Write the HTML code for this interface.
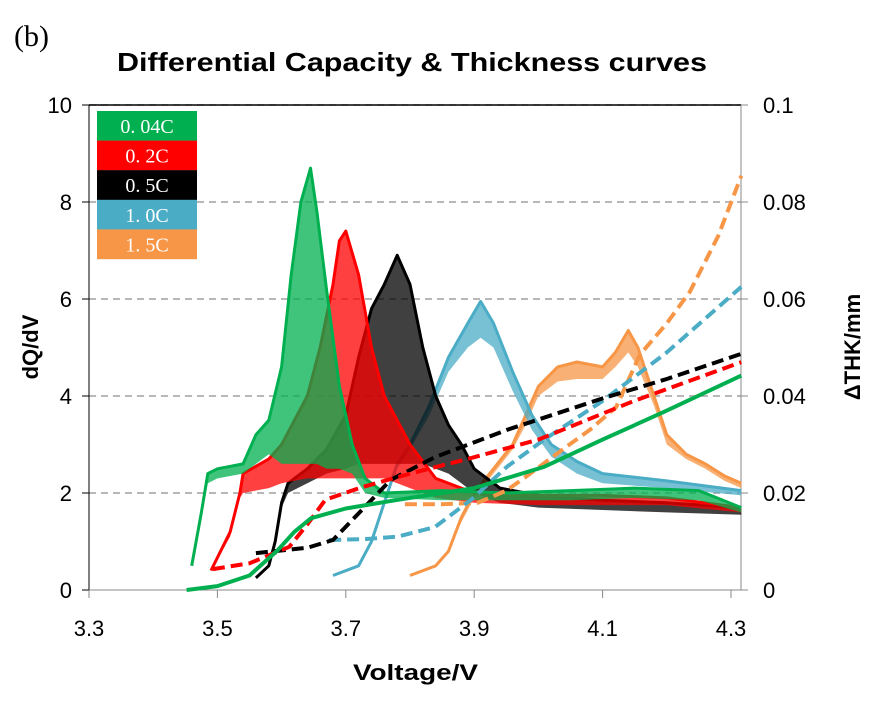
<!DOCTYPE html>
<html><head><meta charset="utf-8"><style>
body{margin:0;background:#fff}
svg text{font-family:"Liberation Sans","DejaVu Sans",sans-serif}
</style></head><body>
<svg id="chart" width="886" height="710" xmlns="http://www.w3.org/2000/svg">
<text x="14" y="46" font-size="30" style="font-family:'Liberation Serif',serif">(b)</text>
<text x="117" y="71" font-size="26" font-weight="bold" textLength="590" lengthAdjust="spacingAndGlyphs">Differential Capacity &amp; Thickness curves</text>
<g id="grid"></g><g id="axes"></g><g id="series"></g><g id="legend"></g>
<text transform="translate(38,347) rotate(-90)" font-size="22" font-weight="bold" text-anchor="middle">dQ/dV</text>
<text transform="translate(860,347) rotate(-90)" font-size="22" font-weight="bold" text-anchor="middle">ΔTHK/mm</text>
<text x="353" y="680" font-size="22" font-weight="bold" textLength="125" lengthAdjust="spacingAndGlyphs">Voltage/V</text>
</svg>
<script>
const xTicks=[3.3,3.5,3.7,3.9,4.1,4.3];
const yTicks=[0,2,4,6,8,10];
const y2Ticks=["0","0.02","0.04","0.06","0.08","0.1"];
const names=["0.04C","0.2C","0.5C","1.0C","1.5C"];
const legendText=["0. 04C","0. 2C","0. 5C","1. 0C","1. 5C"];
const colors=["#00b050","#ff0000","#000000","#4bacc6","#f79646"];
// dQ/dV (upper envelope / lower envelope)
const v004=[3.46,3.475,3.485,3.5,3.54,3.56,3.58,3.6,3.615,3.63,3.645,3.655,3.67,3.69,3.71,3.73,3.76,3.85,3.95,4.05,4.15,4.25,4.316];
const up004=[0.5,1.6,2.4,2.5,2.6,3.2,3.5,4.6,6.5,8.0,8.7,7.8,6.2,4.2,3.0,2.3,2.0,2.05,2.0,2.05,2.1,2.05,1.7];
const lo004=[0.5,1.5,2.2,2.3,2.4,2.6,2.8,2.6,2.6,2.6,2.6,2.6,2.5,2.5,2.4,2.0,1.9,1.85,1.85,1.85,1.9,1.85,1.6];
const v02=[3.49,3.52,3.535,3.54,3.58,3.6,3.64,3.66,3.68,3.69,3.7,3.72,3.74,3.76,3.8,3.84,3.9,4.0,4.1,4.2,4.316];
const up02=[0.4,1.2,2.0,2.4,2.7,3.0,4.0,5.0,6.3,7.2,7.4,6.5,5.0,4.0,3.0,2.3,2.0,1.95,1.95,1.9,1.7];
const lo02=[0.4,1.1,1.9,2.0,2.1,2.2,2.3,2.3,2.3,2.3,2.3,2.3,2.3,2.3,2.1,1.9,1.8,1.75,1.75,1.75,1.6];
const v05=[3.56,3.58,3.59,3.6,3.61,3.64,3.67,3.7,3.72,3.74,3.76,3.78,3.8,3.82,3.84,3.86,3.88,3.9,3.94,4.0,4.1,4.2,4.316];
const up05=[0.25,0.5,1.0,1.8,2.2,2.5,2.9,3.6,4.8,5.8,6.3,6.9,6.3,5.0,4.0,3.4,3.0,2.5,2.1,1.95,1.85,1.8,1.7];
const lo05=[0.25,0.5,1.0,1.7,2.0,2.2,2.4,2.5,2.6,2.6,2.6,2.6,2.6,2.6,2.5,2.4,2.2,2.0,1.8,1.7,1.65,1.6,1.55];
const v10=[3.68,3.72,3.74,3.76,3.78,3.8,3.83,3.86,3.89,3.91,3.93,3.96,3.99,4.02,4.06,4.1,4.2,4.316];
const up10=[0.3,0.5,1.0,1.8,2.6,3.0,3.8,4.8,5.5,5.95,5.5,4.5,3.6,3.0,2.65,2.4,2.25,2.05];
const lo10=[0.3,0.5,1.0,1.8,2.5,2.9,3.6,4.5,5.0,5.2,5.0,4.1,3.3,2.75,2.4,2.2,2.1,1.95];
const v15=[3.8,3.84,3.86,3.88,3.9,3.93,3.96,3.98,4.0,4.03,4.06,4.1,4.12,4.14,4.155,4.18,4.2,4.23,4.26,4.29,4.316];
const up15=[0.3,0.5,0.8,1.5,2.0,2.5,3.0,3.6,4.2,4.6,4.7,4.6,4.9,5.35,5.0,4.0,3.2,2.8,2.6,2.35,2.2];
const lo15=[0.3,0.5,0.8,1.4,1.9,2.4,2.9,3.4,4.0,4.3,4.35,4.35,4.6,4.9,4.6,3.8,3.0,2.7,2.5,2.25,2.1];
// thickness (mm)
const tv004=[3.452,3.5,3.55,3.594,3.62,3.646,3.7,3.781,3.9,4.009,4.1,4.2,4.316];
const th004=[0,0.0008,0.003,0.0082,0.012,0.0148,0.0168,0.0186,0.021,0.0254,0.031,0.037,0.0442];
const tv02=[3.493,3.55,3.612,3.64,3.668,3.725,3.8,3.895,4.0,4.149,4.316];
const th02=[0.0043,0.0055,0.0089,0.0135,0.0186,0.0212,0.024,0.0272,0.031,0.039,0.047];
const tv05=[3.56,3.64,3.68,3.725,3.77,3.839,3.951,4.1,4.2,4.316];
const th05=[0.0076,0.0087,0.0103,0.0165,0.0227,0.0274,0.033,0.0395,0.0435,0.0487];
const tv10=[3.674,3.73,3.781,3.839,3.895,3.951,4.009,4.1,4.2,4.316];
const th10=[0.0103,0.0105,0.011,0.013,0.0186,0.0254,0.031,0.039,0.049,0.0625];
const tv15=[3.792,3.85,3.906,3.95,3.98,4.037,4.08,4.121,4.158,4.2,4.236,4.28,4.316];
const th15=[0.0177,0.0177,0.018,0.0205,0.0233,0.0289,0.033,0.0377,0.0485,0.055,0.0615,0.073,0.0854];

const X=v=>89+(v-3.3)*642;
const Y=v=>590-v*48.5;
const Y2=v=>590-v*4850;
const NS="http://www.w3.org/2000/svg";
function mk(tag,parent,attrs){const e=document.createElementNS(NS,tag);for(const k in attrs)e.setAttribute(k,attrs[k]);parent.appendChild(e);return e;}
const grid=document.getElementById('grid'),axes=document.getElementById('axes'),ser=document.getElementById('series'),leg=document.getElementById('legend');
yTicks.forEach((t,i)=>{
  if(t>0){const l=mk('line',grid,{x1:89,x2:741,y1:Y(t),y2:Y(t),stroke:'#a0a0a0','stroke-width':1.5,'stroke-dasharray':'7,5'});
  
  }
  const tl=mk('text',axes,{x:72,y:Y(t)+8,'font-size':22,'text-anchor':'end'});tl.textContent=t;
  
  
  const t2=mk('text',axes,{x:763,y:Y(t)+8,'font-size':22});t2.textContent=y2Ticks[i];
  
  
  mk('line',axes,{x1:741,x2:748,y1:Y(t),y2:Y(t),stroke:'#888'});
  mk('line',axes,{x1:82,x2:89,y1:Y(t),y2:Y(t),stroke:'#000'});
});
mk('line',axes,{x1:89,x2:741,y1:105,y2:105,stroke:'#000','stroke-width':1.5});
mk('line',axes,{x1:89,x2:89,y1:105,y2:590,stroke:'#000'});
mk('line',axes,{x1:741,x2:741,y1:105,y2:590,stroke:'#888'});
mk('line',axes,{x1:89,x2:741,y1:590,y2:590,stroke:'#888'});
xTicks.forEach(t=>{
  mk('line',axes,{x1:X(t),x2:X(t),y1:590,y2:598,stroke:'#888'});
  const tl=mk('text',axes,{x:X(t),y:636,'font-size':22,'text-anchor':'middle'});tl.textContent=t.toFixed(1);
  
  
});
const dq=[[v004,up004,lo004],[v02,up02,lo02],[v05,up05,lo05],[v10,up10,lo10],[v15,up15,lo15]];
const th=[[tv004,th004],[tv02,th02],[tv05,th05],[tv10,th10],[tv15,th15]];
const order=[4,3,2,1,0];
order.forEach(i=>{
  const [v,u,l]=dq[i];
  let d='M'+v.map((x,k)=>X(x).toFixed(1)+','+Y(u[k]).toFixed(1)).join('L');
  d+='L'+v.map((x,k)=>X(x).toFixed(1)+','+Y(l[k]).toFixed(1)).reverse().join('L')+'Z';
  const p=mk('path',ser,{d:d,fill:colors[i],'fill-opacity':0.75,stroke:'none'});
  
  
  const ln=mk('polyline',ser,{points:v.map((x,k)=>X(x).toFixed(1)+','+Y(u[k]).toFixed(1)).join(' '),fill:'none',stroke:colors[i],'stroke-width':3,'stroke-linejoin':'round'});
  
  
});
order.forEach(i=>{
  const [v,t]=th[i];
  const pts=v.map((x,k)=>X(x).toFixed(1)+','+Y2(t[k]).toFixed(1)).join(' ');
  const a={points:pts,fill:'none',stroke:colors[i],'stroke-width':4,'stroke-linejoin':'round'};
  if(i>0)a['stroke-dasharray']='12,6';
  const p=mk('polyline',ser,a);
  
  
});
names.forEach((n,i)=>{
  const g=mk('g',leg,{});
  
  
  mk('rect',g,{x:97,y:111+i*29.6,width:100,height:29.8,fill:colors[i]});
  const t=mk('text',g,{x:147,y:111+i*29.6+22,'font-size':20,fill:'#fff','text-anchor':'middle',style:"font-family:'Liberation Serif',serif"});
  t.textContent=legendText[i];
});
</script>
</body></html>
